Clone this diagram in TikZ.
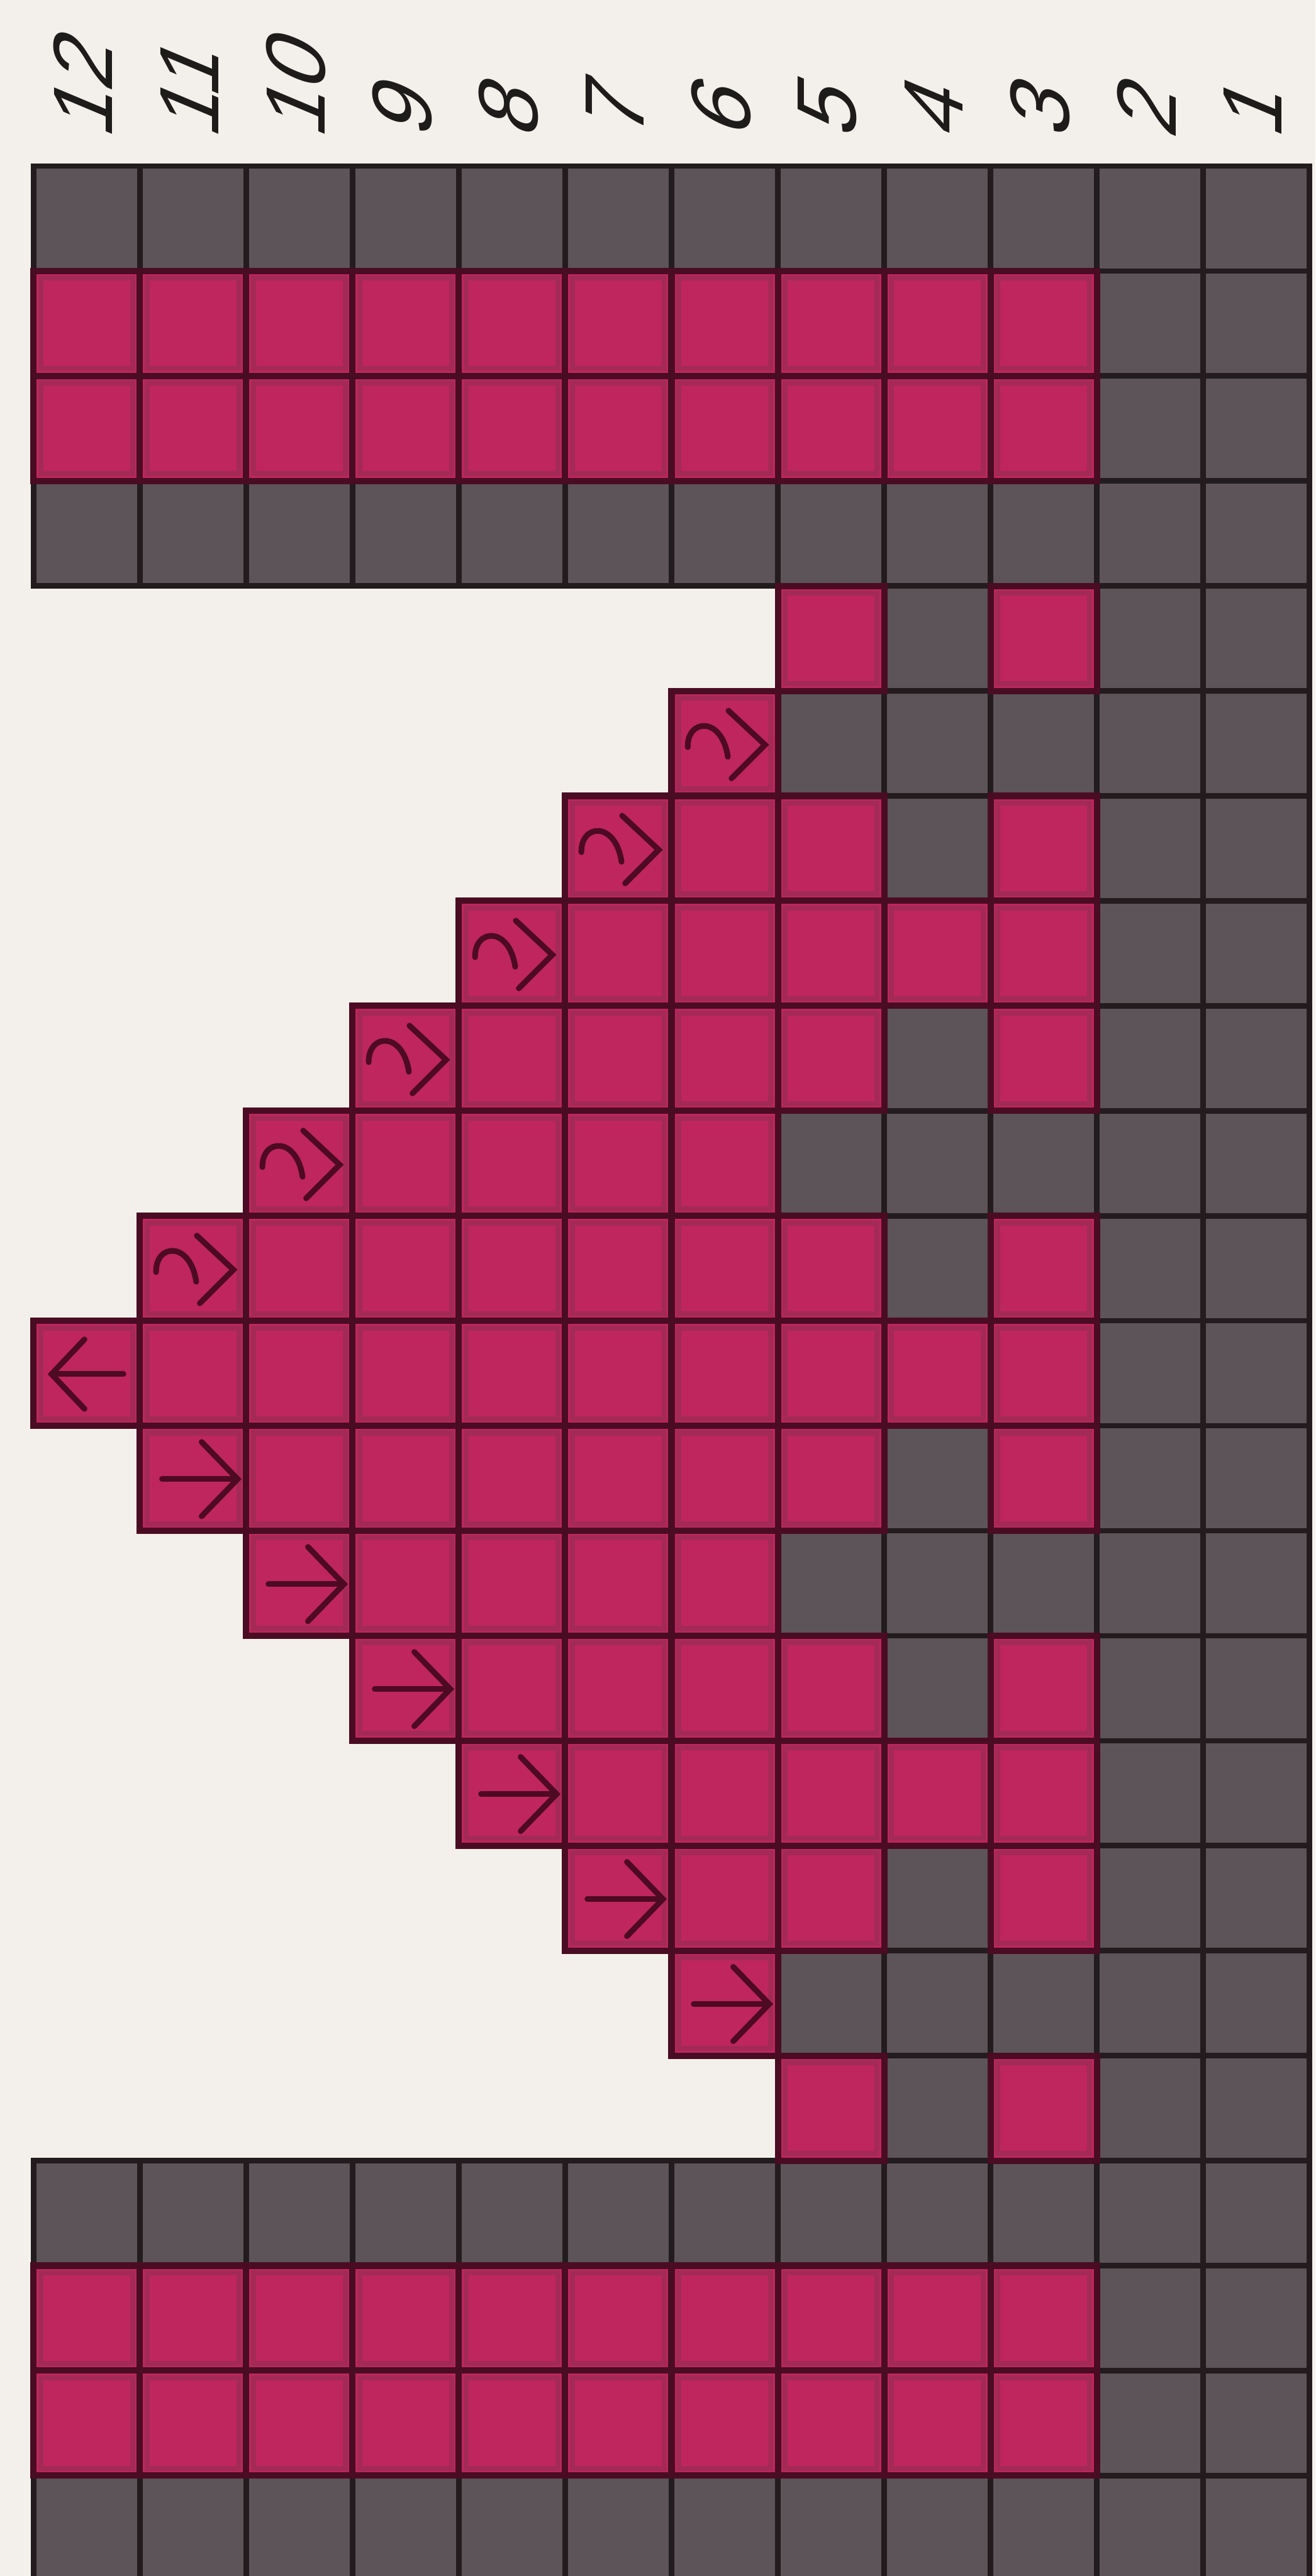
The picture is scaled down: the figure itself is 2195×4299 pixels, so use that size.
\documentclass[tikz,border=0pt]{standalone}
\usepackage{fontspec}
\newfontfamily\labfont{Liberation Sans}[FakeSlant=0.42]
\definecolor{bgc}{HTML}{F3F0EB}
\definecolor{pinkc}{HTML}{BE265D}
\definecolor{pinkrim}{HTML}{A42A56}
\definecolor{greyc}{HTML}{5C5458}
\definecolor{gline}{HTML}{221C1E}
\definecolor{pline}{HTML}{4A0C22}
\definecolor{symc}{HTML}{4E0A22}
\definecolor{txtc}{HTML}{1E1B1B}
\tikzset{
  gridg/.style={draw=gline, line width=1.3pt},
  gridp/.style={draw=pline, line width=1.5pt},
  rimp/.style={draw=pinkrim, line width=1.2pt},
  symb/.style={draw=symc, line width=1.35pt, line cap=round, line join=miter},
  lab/.style={rotate=90, anchor=west, inner sep=0pt, text=txtc}
}
% cell drawing macros (cell-local coordinates, px, y downwards)
\def\cellfillG{\fill[greyc] (0,0) rectangle (177.4,175.2);}
\def\cellfillP{\fill[pinkc] (0,0) rectangle (177.4,175.2);}
\let\cellfillW\cellfillP \let\cellfillR\cellfillP \let\cellfillL\cellfillP
\def\cellfillN{}
\def\cellbdaG{\draw[gridg] (0,0) rectangle (177.4,175.2);}
\def\cellbdaP{}\let\cellbdaW\cellbdaP \let\cellbdaR\cellbdaP \let\cellbdaL\cellbdaP
\def\cellbdaN{}
\def\cellbdbP{\draw[rimp] (12,12) rectangle (165.4,163.2);\draw[gridp] (0,0) rectangle (177.4,175.2);}
\let\cellbdbW\cellbdbP \let\cellbdbR\cellbdbP \let\cellbdbL\cellbdbP
\def\cellbdbG{}\def\cellbdbN{}
\def\cellsymW{\draw[symb] (27,94) .. controls (26,46) and (84,42) .. (94,110);
  \draw[symb] (95,33) -- (156,90) -- (100,146);}
\def\cellsymR{\draw[symb] (37,89) -- (162,89); \draw[symb] (103,27) -- (163,89) -- (103,151);}
\def\cellsymL{\draw[symb] (150,89) -- (30,89); \draw[symb] (85,31) -- (30,89) -- (85,147);}
\def\cellsymG{}\def\cellsymP{}\def\cellsymN{}
% parser
\def\cellrow#1#2{\def\rowidx{#1}\def\colidx{0}\parsecells#2\relax}
\def\parsecells#1{\ifx#1\relax\else
  \pgfmathsetmacro\cx{56+\colidx*177.4}\pgfmathsetmacro\cy{277+\rowidx*175.2}%
  \begin{scope}[shift={(\cx,\cy)}]\csname cell\passname#1\endcsname\end{scope}%
  \pgfmathtruncatemacro\colidx{\colidx+1}%
  \expandafter\parsecells\fi}
\def\allrows{%
  \cellrow{0}{GGGGGGGGGGGG}%
  \cellrow{1}{PPPPPPPPPPGG}%
  \cellrow{2}{PPPPPPPPPPGG}%
  \cellrow{3}{GGGGGGGGGGGG}%
  \cellrow{4}{NNNNNNNPGPGG}%
  \cellrow{5}{NNNNNNWGGGGG}%
  \cellrow{6}{NNNNNWPPGPGG}%
  \cellrow{7}{NNNNWPPPPPGG}%
  \cellrow{8}{NNNWPPPPGPGG}%
  \cellrow{9}{NNWPPPPGGGGG}%
  \cellrow{10}{NWPPPPPPGPGG}%
  \cellrow{11}{LPPPPPPPPPGG}%
  \cellrow{12}{NRPPPPPPGPGG}%
  \cellrow{13}{NNRPPPPGGGGG}%
  \cellrow{14}{NNNRPPPPGPGG}%
  \cellrow{15}{NNNNRPPPPPGG}%
  \cellrow{16}{NNNNNRPPGPGG}%
  \cellrow{17}{NNNNNNRGGGGG}%
  \cellrow{18}{NNNNNNNPGPGG}%
  \cellrow{19}{GGGGGGGGGGGG}%
  \cellrow{20}{PPPPPPPPPPGG}%
  \cellrow{21}{PPPPPPPPPPGG}%
  \cellrow{22}{GGGGGGGGGGGG}%
}
\begin{document}
\begin{tikzpicture}[x=0.005cm,y=-0.005cm]
\fill[bgc] (0,0) rectangle (2195,4299);
\useasboundingbox (0,0) rectangle (2195,4299);
\def\passname{fill}\allrows
\def\passname{bda}\allrows
\def\passname{bdb}\allrows
\def\passname{sym}\allrows
\foreach \n [count=\i from 0] in {12,11,...,1}
  \node[lab] (lab\n) at ({50+(\i+0.5)*177.4},236) {\fontsize{20}{20}\labfont\n};
\end{tikzpicture}
\end{document}
